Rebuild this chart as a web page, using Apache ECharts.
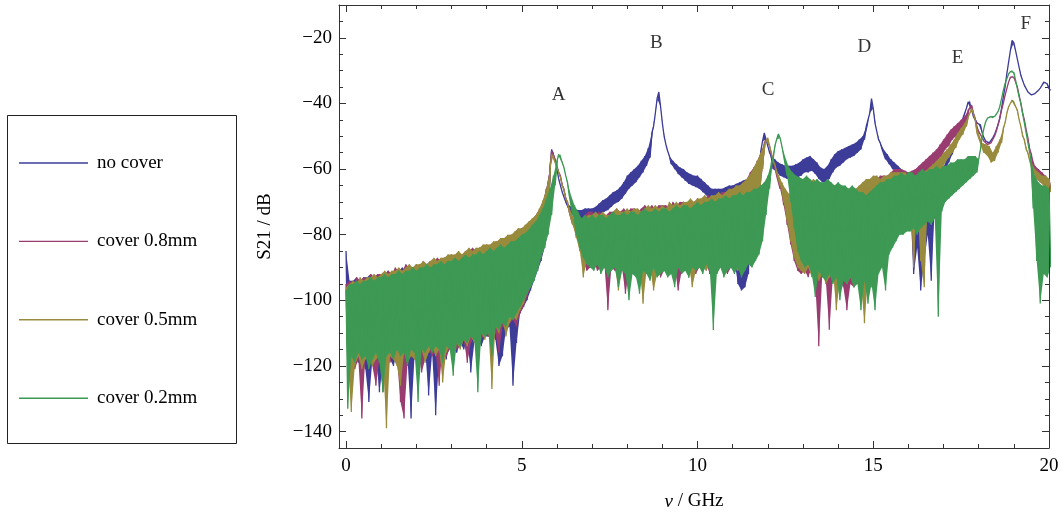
<!DOCTYPE html>
<html>
<head>
<meta charset="utf-8">
<script src="https://cdn.jsdelivr.net/npm/echarts@6/dist/echarts.min.js"></script>
<style>
html, body { margin: 0; padding: 0; background: #fff; }
#chart { width: 1064px; height: 520px; }
</style>
</head>
<body>
<div id="chart"></div>
<script>
// traces every 0.1 GHz (0 .. 20 GHz)
// hi = top of the trace at f, lo = bottom of the trace at f + 0.05
var blueHi = [
  -85, -94, -94, -93, -94, -93, -93, -92, -93, -92,
  -92, -92, -91, -92, -91, -91, -90, -91, -90, -90,
  -90, -89, -90, -89, -88, -89, -88, -88, -87, -88,
  -87, -87, -86, -87, -86, -86, -85, -85, -84, -85,
  -84, -84, -83, -83, -82, -82, -81, -81, -80, -79,
  -78, -77.5, -76.5, -75.5, -74, -72.5, -70, -66, -60, -54.5,
  -60, -65, -68.5, -70.5, -71.5, -72, -72.5, -72.5, -72, -72,
  -72, -71.5, -70.5, -69.5, -69, -68, -67, -66.5, -65.5, -64,
  -62, -61, -60, -59, -57.5, -56, -53.5, -49, -43, -36.5,
  -46, -52.5, -56, -57.5, -58.5, -59.5, -60, -61, -61.5, -62,
  -62, -63, -64, -65, -66, -66, -66, -66, -65.5, -65,
  -65, -64.5, -64, -63.5, -63, -62, -61, -59, -54.5, -49,
  -53, -56, -57, -58, -58.5, -59, -59, -59, -58.5, -58,
  -57, -56.5, -56, -57, -58, -59.5, -60, -59, -57, -55.5,
  -54.5, -54, -53.5, -53, -52.5, -52, -51, -50, -47, -43,
  -41.5, -48.5, -52, -54, -55.5, -57, -58, -59, -60, -61,
  -62, -63, -64, -64, -64, -63.5, -63, -62, -61.5, -60.5,
  -60, -57, -54.5, -51.5, -48.5, -46, -43, -39.5, -42, -44.5,
  -46.5, -49, -51.5, -52, -50.5, -48, -44.5, -38, -31, -24,
  -21.5, -26.5, -31.5, -34.5, -36.5, -37.4, -37, -36, -34.5, -33.5,
  -35.5
];
var blueLo = [
  -118, -120, -117, -119, -118, -121, -131, -118, -117, -128,
  -119, -117, -118, -120, -116, -119, -117, -118, -136, -117,
  -116, -118, -115, -129, -116, -135, -117, -115, -118, -114,
  -114, -116, -113, -115, -112, -122, -113, -112, -114, -111,
  -111, -110, -112, -120, -117, -109, -108, -126, -113, -104,
  -102, -100, -97, -94, -91, -88, -84, -79, -54, -57.5,
  -63, -67, -70, -72.5, -74, -75, -76, -76.5, -76, -76,
  -75.5, -74.5, -73.5, -73, -72.5, -71.5, -70.5, -70, -69, -67.5,
  -66, -65, -64, -62.5, -61, -59, -56.5, -47, -38.5, -41,
  -50, -54.5, -58.5, -60, -61.5, -62.5, -63.5, -64.5, -65, -65.5,
  -66, -67, -68, -69, -70, -70, -70.5, -70, -69.5, -69,
  -88, -95, -97, -96, -92, -76, -66, -61, -51.5, -51,
  -55, -60, -61, -62, -62.5, -63, -63, -63, -62.5, -62,
  -61, -61, -60.5, -61.5, -63, -64, -64, -63, -61, -59.5,
  -59, -58, -57, -56.5, -56, -55, -54, -51, -46.5, -38.5,
  -46, -51, -54, -57, -58.5, -60, -61, -62, -64, -66,
  -72, -92, -84, -97, -88, -80, -94, -72, -66, -62,
  -60.5, -58, -55.5, -52.5, -49.5, -46, -41.5, -39, -44, -46,
  -46.5, -50.5, -52, -51.5, -49.5, -46.5, -41.5, -35, -27.5, -20.8,
  -24, -29, -33, -35.5, -37, -37.3, -36.5, -35.3, -33.5, -34,
  -36
];
var purpleHi = [
  -95, -94, -95, -93, -94, -93, -94, -92, -93, -92,
  -92, -93, -91, -92, -90, -91, -91, -89, -90, -90,
  -89, -90, -88, -89, -88, -88, -87, -88, -87, -87,
  -86, -87, -86, -86, -85, -85, -84, -85, -84, -84,
  -83, -84, -83, -82, -82, -81, -81, -80, -80, -79,
  -78, -77.5, -76.5, -75.5, -74, -72.5, -70, -66, -60, -55,
  -59, -62, -66, -70, -73, -76, -78, -76, -74, -73,
  -73, -74, -73, -74, -74, -73, -73, -72, -73, -72,
  -73, -72, -72, -73, -72, -71, -72, -71, -72, -71,
  -71, -71, -72, -70, -71, -70, -70, -71, -70, -70,
  -69, -70, -69, -68, -69, -68, -68, -67, -67, -67,
  -66, -65.5, -65, -64, -63, -61, -59.5, -57.5, -55, -52,
  -50.5, -55.5, -59, -62, -64.5, -66.5, -68, -67, -66, -65,
  -64, -63, -64, -65, -64, -65, -64, -65, -66, -65,
  -65, -66, -66, -67, -66, -67, -66, -65, -64, -64,
  -63, -63, -62, -62, -62, -61, -60, -60, -60, -60.5,
  -61, -60.5, -60, -59, -58, -57, -56, -55, -54, -52.5,
  -51, -49.5, -48, -47, -46, -45, -44, -42, -40.5, -44.5,
  -48, -50.5, -52, -52.5, -51, -48.5, -44.5, -40, -35.5, -32,
  -32, -35, -40, -45, -50.5, -55.5, -59, -60, -61, -62,
  -63
];
var purpleLo = [
  -117, -119, -121, -118, -136, -117, -119, -120, -126, -118,
  -128, -117, -119, -116, -118, -131, -136, -119, -117, -118,
  -116, -122, -118, -115, -117, -116, -126, -114, -117, -115,
  -113, -115, -114, -112, -119, -113, -111, -114, -112, -110,
  -111, -109, -110, -116, -108, -109, -107, -106, -108, -104,
  -102, -99, -96, -93, -90, -87, -83, -78, -54.5, -57,
  -61, -65, -69, -73, -77, -80, -84, -88, -91, -90,
  -88, -91, -90, -89, -103, -90, -91, -92, -90, -98,
  -91, -90, -92, -91, -93, -90, -92, -91, -90, -93,
  -91, -89, -92, -90, -97, -91, -90, -93, -90, -92,
  -90, -91, -89, -92, -90, -91, -89, -90, -92, -90,
  -91, -89, -92, -90, -88, -84, -78, -70, -60, -51,
  -53, -58, -62, -66, -71, -77, -83, -88, -91, -92,
  -91, -93, -90, -95, -114, -92, -94, -109, -93, -95,
  -94, -96, -103, -95, -96, -94, -97, -95, -93, -96,
  -94, -88, -85, -83, -80, -75, -70, -66, -64, -64,
  -66, -88, -70, -64, -62, -61, -60, -59, -57, -56,
  -54, -53, -51, -50, -49, -48, -46.5, -41.5, -43, -48,
  -49.5, -51.5, -52.5, -52, -50, -46.5, -42, -37.5, -33.5, -31.5,
  -33.5, -37.5, -43, -48, -54, -60, -63, -64, -65, -66,
  -66
];
var oliveHi = [
  -96, -95, -94, -95, -93, -94, -93, -93, -92, -93,
  -92, -91, -92, -91, -91, -90, -91, -90, -89, -90,
  -89, -89, -88, -89, -88, -87, -88, -87, -87, -86,
  -86, -86, -85, -86, -85, -84, -85, -84, -84, -83,
  -83, -83, -82, -82, -81, -81, -80, -80, -79, -78,
  -78, -77, -76, -75, -74, -72, -69.5, -66, -60.5, -55.5,
  -59.5, -62.5, -66.5, -70, -73, -76, -78.5, -78, -75, -74,
  -74, -73, -74, -73, -74, -74, -73, -72, -73, -73,
  -72, -73, -72, -72, -73, -72, -71, -72, -71, -72,
  -71, -72, -70, -71, -70, -71, -70, -70, -69, -70,
  -69, -69, -68, -69, -68, -68, -67, -68, -67, -66,
  -66, -65, -65, -64, -63, -61.5, -59.5, -57.5, -55, -52.5,
  -50.5, -55, -58.5, -61.5, -64, -66, -67.5, -67, -66, -65,
  -64, -65, -64, -63, -64, -65, -65, -64, -65, -66,
  -66, -65, -66, -66, -67, -66, -65, -64, -63, -63,
  -62, -62, -63, -62, -62, -61, -61, -61, -61, -61,
  -62, -62, -62, -61.5, -61, -60.5, -59.5, -58.5, -57.5, -56.5,
  -55, -54, -52.5, -51, -49, -47.5, -46, -44, -41.5, -45,
  -49, -52, -52.5, -53, -55, -53, -51, -47.5, -43, -40,
  -39, -42, -47, -51, -55, -58, -60, -61, -62, -62,
  -63
];
var oliveLo = [
  -119, -134, -120, -117, -121, -118, -116, -120, -118, -117,
  -119, -139, -117, -118, -120, -126, -116, -119, -117, -118,
  -117, -115, -119, -116, -114, -117, -115, -125, -116, -114,
  -120, -113, -115, -112, -114, -111, -113, -112, -110, -112,
  -109, -127, -108, -110, -106, -111, -107, -105, -106, -103,
  -101, -98, -96, -92, -89, -86, -82, -77, -55.5, -58,
  -61, -65, -69, -73, -77, -81, -85, -93, -88, -90,
  -90, -89, -91, -90, -92, -89, -90, -97, -91, -90,
  -92, -90, -91, -90, -101, -91, -90, -97, -92, -90,
  -91, -90, -89, -92, -90, -91, -90, -89, -96, -91,
  -89, -90, -91, -89, -90, -92, -90, -88, -91, -89,
  -90, -91, -88, -90, -87, -84, -78, -70, -60, -51.5,
  -53, -57.5, -61, -65, -70, -76, -82, -87, -90, -91,
  -92, -90, -93, -91, -94, -92, -95, -93, -91, -103,
  -94, -92, -95, -93, -96, -94, -95, -107, -93, -96,
  -90, -88, -85, -83, -80, -77, -72, -68, -66, -65,
  -66, -90, -70, -88, -96, -70, -65, -63, -61, -60,
  -58, -56.5, -55, -53.5, -51, -49.5, -47, -43, -42, -49,
  -52, -55, -56, -58, -57.5, -55, -52, -46, -41, -39,
  -41, -45, -50, -54, -57.5, -61, -63, -64, -65, -66,
  -67
];
var greenHi = [
  -97, -95, -95, -94, -95, -94, -94, -93, -94, -93,
  -93, -92, -93, -92, -92, -91, -92, -91, -91, -90,
  -91, -90, -90, -89, -90, -89, -89, -88, -89, -88,
  -88, -87, -88, -87, -86, -87, -86, -86, -85, -86,
  -85, -84, -85, -84, -83, -84, -83, -82, -82, -81,
  -80, -79.5, -78.5, -77, -76, -74, -72, -69, -66, -62,
  -57.5, -55.5, -59.5, -64, -68, -71, -73, -75, -74, -75,
  -74, -75, -74, -74, -75, -74, -73, -74, -74, -73,
  -74, -73, -73, -74, -73, -72, -73, -73, -72, -73,
  -72, -72, -73, -72, -71, -72, -71, -71, -72, -71,
  -70, -71, -70, -70, -69, -70, -69, -69, -68, -69,
  -68, -68, -67, -68, -67, -67, -66, -66, -65, -64,
  -62, -58, -53, -49.3, -53, -56.5, -59.5, -61, -62, -62.5,
  -63, -62, -63, -64, -63, -64, -64, -63, -64, -65,
  -64, -65, -65, -66, -65, -66, -67, -67, -68, -67,
  -66, -65, -64, -64, -63, -63, -62, -62, -61, -62,
  -61, -61, -62, -61, -60, -61, -60, -60, -59, -60,
  -59, -59, -58, -58, -57, -57, -57, -56, -56, -56,
  -57, -50, -45.5, -44, -44.5, -43.5, -41, -36, -32.5, -30.3,
  -30.5, -35.5, -40, -46, -52, -58, -62, -64, -65, -65,
  -66
];
var greenLo = [
  -133, -117, -119, -116, -118, -117, -121, -118, -116, -119,
  -128, -117, -116, -118, -115, -117, -116, -120, -115, -116,
  -131, -115, -116, -114, -116, -114, -115, -119, -114, -115,
  -123, -113, -114, -112, -113, -111, -112, -128, -110, -111,
  -110, -117, -108, -109, -107, -108, -105, -106, -104, -102,
  -100, -98, -96, -94, -91, -87, -84, -80, -74, -65,
  -55.5, -58, -62, -68, -74, -80, -84, -87, -89, -90,
  -91, -89, -92, -90, -93, -91, -90, -96, -91, -92,
  -100, -92, -93, -98, -91, -92, -94, -90, -93, -92,
  -91, -93, -92, -96, -90, -92, -91, -93, -90, -91,
  -90, -92, -89, -91, -109, -92, -90, -93, -91, -90,
  -92, -90, -93, -91, -89, -90, -88, -86, -82, -74,
  -66, -57, -51, -50.5, -56, -62, -70, -78, -85, -88,
  -90, -89, -92, -99, -91, -93, -94, -92, -95, -93,
  -100, -94, -95, -93, -96, -95, -103, -94, -101, -95,
  -103, -92, -90, -97, -86, -84, -82, -80, -80, -79,
  -79, -78, -80, -78, -77, -76, -77, -75, -105, -73,
  -70, -69, -68, -67, -66, -65, -64, -63, -62, -61,
  -54, -47.5, -44.5, -44, -44, -42.5, -38.5, -34, -31, -29.7,
  -33, -38, -43, -49, -55, -72, -88, -101, -92, -93,
  -90
];

var seriesNames = ['no cover', 'cover 0.8mm', 'cover 0.5mm', 'cover 0.2mm'];
var seriesColors = ['#3d3d99', '#993d71', '#998b3d', '#3d9954'];
var peakNames = ['A', 'B', 'C', 'D', 'E', 'F'];
var peakFreq = [6.05, 8.83, 12.01, 14.75, 17.4, 19.34];
var peakLevel = [-37.4, -21.5, -35.8, -22.8, -26.1, -15.8];
var xMajor = [0, 5, 10, 15, 20];
var yMajor = [-140, -120, -100, -80, -60, -40, -20];

var xMinor = [];
for (var i = 0; i <= 20; i++) if (i % 5 !== 0) xMinor.push(i);
var yMinor = [];
for (var v = -140; v <= -10; v += 5) if (v % 20 !== 0) yMinor.push(v);

function trace(hi, lo) {
  var pts = [];
  for (var k = 0; k < hi.length; k++) {
    pts.push([k / 10, hi[k]]);
    pts.push([k / 10 + 0.05, lo[k]]);
  }
  return pts;
}

var serif = 'Liberation Serif';
var frame = '#333';
function minus(val) { return String(val).replace('-', '\u2212'); }

function xAx(pos, ticks, len, main) {
  return {
    type: 'value', min: -0.2, max: 20, position: pos,
    axisLine: { show: main, onZero: false, lineStyle: { color: frame, width: 1 } },
    axisTick: { show: true, inside: true, length: len, customValues: ticks, lineStyle: { color: frame } },
    axisLabel: { show: false },
    splitLine: { show: false }
  };
}
function yAx(pos, ticks, len, main) {
  return {
    type: 'value', min: -145, max: -10, position: pos,
    axisLine: { show: main, onZero: false, lineStyle: { color: frame, width: 1 } },
    axisTick: { show: true, inside: true, length: len, customValues: ticks, lineStyle: { color: frame } },
    axisLabel: { show: false },
    splitLine: { show: false }
  };
}

var xBottom = xAx('bottom', xMajor, 7, true);
xBottom.axisLabel = {
  show: true, customValues: xMajor, margin: 9, color: '#000',
  fontFamily: serif, fontSize: 19, formatter: minus
};
xBottom.name = '{i|\u03bd} / GHz';
xBottom.nameLocation = 'middle';
xBottom.nameGap = 44;
xBottom.nameTextStyle = {
  fontFamily: serif, fontSize: 19, color: '#000',
  rich: { i: { fontFamily: serif, fontSize: 19, fontStyle: 'italic', color: '#000' } }
};

var yLeft = yAx('left', yMajor, 7, true);
yLeft.axisLabel = {
  show: true, customValues: yMajor, margin: 7, color: '#000',
  fontFamily: serif, fontSize: 19, formatter: minus
};
yLeft.name = 'S21 / dB';
yLeft.nameLocation = 'middle';
yLeft.nameGap = 64;
yLeft.nameTextStyle = { fontFamily: serif, fontSize: 19, color: '#000' };

var his = [blueHi, purpleHi, oliveHi, greenHi];
var los = [blueLo, purpleLo, oliveLo, greenLo];
var series = [];
seriesNames.forEach(function (name, s) {
  // solid noise band between the read top and bottom of each trace
  series.push({
    name: name + ' band', type: 'custom', xAxisIndex: 0, yAxisIndex: 0,
    data: [[0, -100]], silent: true, clip: true, z: 10 + 2 * s,
    renderItem: function (params, api) {
      var hi = his[s], lo = los[s], pts = [];
      for (var k = 0; k < hi.length; k++) pts.push(api.coord([k / 10, hi[k]]));
      for (var k2 = lo.length - 1; k2 >= 0; k2--) pts.push(api.coord([k2 / 10 + 0.05, lo[k2]]));
      return { type: 'polygon', shape: { points: pts }, style: { fill: seriesColors[s], stroke: null } };
    }
  });
  series.push({
    name: name, type: 'line', xAxisIndex: 0, yAxisIndex: 0, z: 11 + 2 * s,
    data: trace(his[s], los[s]),
    symbol: 'none', showSymbol: false, smooth: false,
    lineStyle: { color: seriesColors[s], width: 1.3 },
    itemStyle: { color: seriesColors[s] },
    emphasis: { disabled: true }
  });
});
series.push({
  name: 'peaks', type: 'scatter', xAxisIndex: 0, yAxisIndex: 0,
  data: peakFreq.map(function (f, k) { return [f, peakLevel[k]]; }),
  symbolSize: 0, silent: true, z: 30,
  label: {
    show: true, position: 'inside', color: '#000', fontFamily: serif, fontSize: 19,
    formatter: function (p) { return peakNames[p.dataIndex]; }
  }
});

var chart = echarts.init(document.getElementById('chart'));
chart.setOption({
  animation: false,
  grid: { left: 339, top: 5, width: 710, height: 443, containLabel: false },
  xAxis: [xBottom, xAx('bottom', xMinor, 4, false), xAx('top', xMajor, 7, true), xAx('top', xMinor, 4, false)],
  yAxis: [yLeft, yAx('left', yMinor, 4, false), yAx('right', yMajor, 7, true), yAx('right', yMinor, 4, false)],
  legend: {
    data: seriesNames, orient: 'vertical', left: 19, top: 153.5, padding: 0,
    icon: 'path://M0,0H100V2H0Z',
    itemWidth: 69, itemHeight: 14, itemGap: 59.4, selectedMode: false,
    textStyle: { fontFamily: serif, fontSize: 19, color: '#000', padding: [0, 0, 0, 4] }
  },
  graphic: [{
    type: 'rect', left: 5, top: 113, silent: true,
    shape: { width: 229, height: 328 },
    style: { fill: 'none', stroke: '#222', lineWidth: 1 }
  }],
  series: series
});
</script>
</body>
</html>
